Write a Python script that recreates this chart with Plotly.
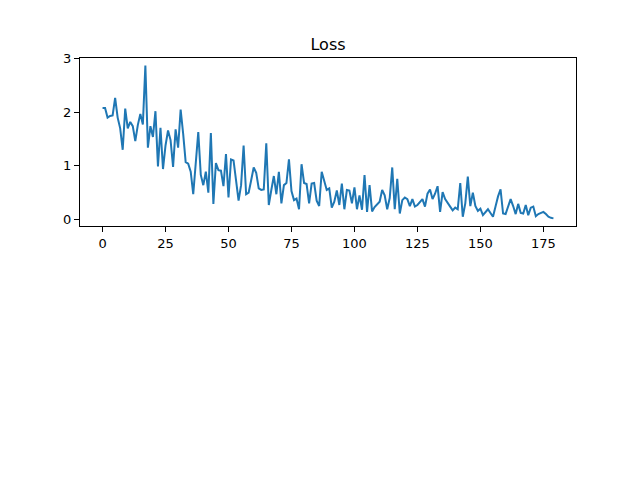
import plotly.graph_objects as go

steps = list(range(180))
loss = [
    2.08, 2.08, 1.90, 1.93, 1.94, 2.27, 1.90, 1.70, 1.30, 2.07,
    1.70, 1.82, 1.74, 1.46, 1.76, 1.97, 1.77, 2.87, 1.34, 1.74,
    1.54, 2.02, 0.99, 1.71, 0.94, 1.38, 1.66, 1.48, 0.98, 1.68,
    1.34, 2.05, 1.60, 1.07, 1.04, 0.89, 0.47, 1.07, 1.63, 0.83,
    0.64, 0.89, 0.50, 1.61, 0.29, 1.05, 0.92, 0.91, 0.62, 1.22,
    0.41, 1.12, 1.10, 0.73, 0.35, 0.64, 1.38, 0.47, 0.50, 0.73,
    0.97, 0.87, 0.58, 0.55, 0.56, 1.42, 0.27, 0.55, 0.81, 0.47,
    0.89, 0.30, 0.64, 0.68, 1.12, 0.53, 0.36, 0.39, 0.19, 1.03,
    0.68, 0.66, 0.30, 0.67, 0.68, 0.35, 0.25, 0.89, 0.70, 0.55,
    0.58, 0.22, 0.33, 0.54, 0.27, 0.67, 0.19, 0.55, 0.54, 0.30,
    0.60, 0.19, 0.45, 0.18, 0.83, 0.14, 0.64, 0.15, 0.23, 0.28,
    0.33, 0.55, 0.45, 0.19, 0.40, 0.97, 0.19, 0.76, 0.11, 0.36,
    0.41, 0.38, 0.25, 0.38, 0.24, 0.27, 0.33, 0.38, 0.24, 0.48,
    0.56, 0.38, 0.48, 0.62, 0.14, 0.51, 0.38, 0.30, 0.24, 0.17,
    0.22, 0.19, 0.68, 0.05, 0.30, 0.80, 0.25, 0.50, 0.25, 0.16,
    0.20, 0.08, 0.14, 0.19, 0.12, 0.05, 0.24, 0.43, 0.56, 0.11,
    0.10, 0.24, 0.38, 0.25, 0.10, 0.29, 0.12, 0.11, 0.27, 0.08,
    0.22, 0.24, 0.06, 0.10, 0.12, 0.14, 0.10, 0.05, 0.03, 0.02,
]
x_ticks = [0, 25, 50, 75, 100, 125, 150, 175]
y_ticks = [0, 1, 2, 3]

xmin, xmax = min(steps), max(steps)
xm = (xmax - xmin) * 0.05
ymin, ymax = min(loss), max(loss)
ym = (ymax - ymin) * 0.05

fig = go.Figure()
fig.add_trace(go.Scatter(x=steps, y=loss, mode="lines",
                         line=dict(color="#1f77b4", width=2)))

axis_common = dict(showgrid=False, zeroline=False, showline=True, mirror=True,
                   linecolor="black", linewidth=1, ticks="outside", ticklen=5,
                   tickwidth=1, tickcolor="black",
                   tickfont=dict(family="DejaVu Sans", size=13, color="black"))

fig.update_layout(
    width=640, height=480,
    margin=dict(l=80, r=64, t=58, b=254, pad=0),
    paper_bgcolor="white", plot_bgcolor="white",
    showlegend=False,
    title=dict(text="Loss", x=0.5, xanchor="center", xref="paper",
               y=1 - 50 / 480, yanchor="bottom", yref="container",
               font=dict(family="DejaVu Sans", size=16, color="black")),
    xaxis=dict(range=[xmin - xm, xmax + xm], tickmode="array", tickvals=x_ticks,
               ticktext=[str(t) for t in x_ticks], **axis_common),
    yaxis=dict(range=[ymin - ym, ymax + ym], tickmode="array", tickvals=y_ticks,
               ticktext=[str(t) for t in y_ticks], **axis_common),
)

fig.write_html("out.html", config={"displayModeBar": False},
               post_script="document.body.style.margin='0';document.body.style.padding='0';")
